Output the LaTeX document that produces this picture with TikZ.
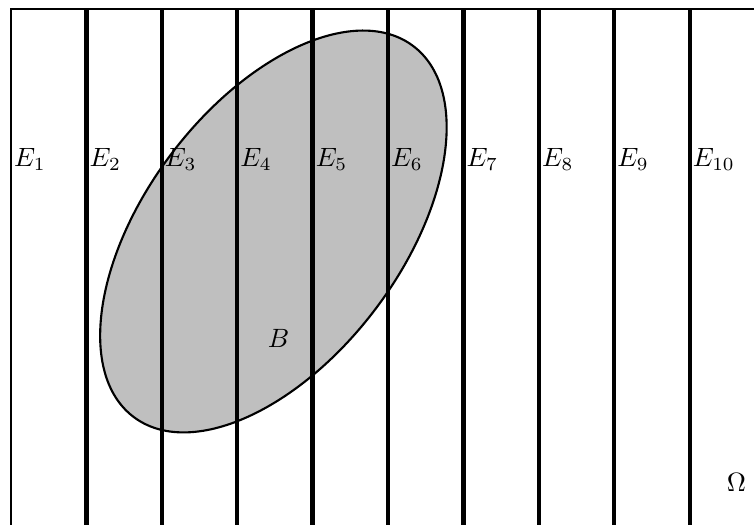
\documentclass[tikz,border=0pt]{standalone}
\usepackage{tikz}

\begin{document}
\begin{tikzpicture}[x=1cm,y=1cm]
  \useasboundingbox (-0.146,0.17) rectangle (9.854,7.12);
  \clip (-0.146,0.17) rectangle (9.854,7.12);
  % the set B
  \filldraw[fill=black!25,thick,rotate around={53:(3.48,4.05)}] (3.48,4.05) ellipse (3.08 and 1.7);
  \node (B) at (3.55,2.63) {$B$};
  % frame
  \draw[line width=1pt] (0,0) -- (0,7) -- (10,7);
  % partition
  \foreach \i in {1,...,9}{
    \draw[ultra thick] (\i,0) -- (\i,7);
  }
  \foreach \i in {1,...,10}{
    \node[right,inner sep=1pt] (E\i) at (\i-1,5) {$E_{\i}$};
  }
  \node (Omega) at (9.62,0.72) {$\Omega$};
\end{tikzpicture}
\end{document}
